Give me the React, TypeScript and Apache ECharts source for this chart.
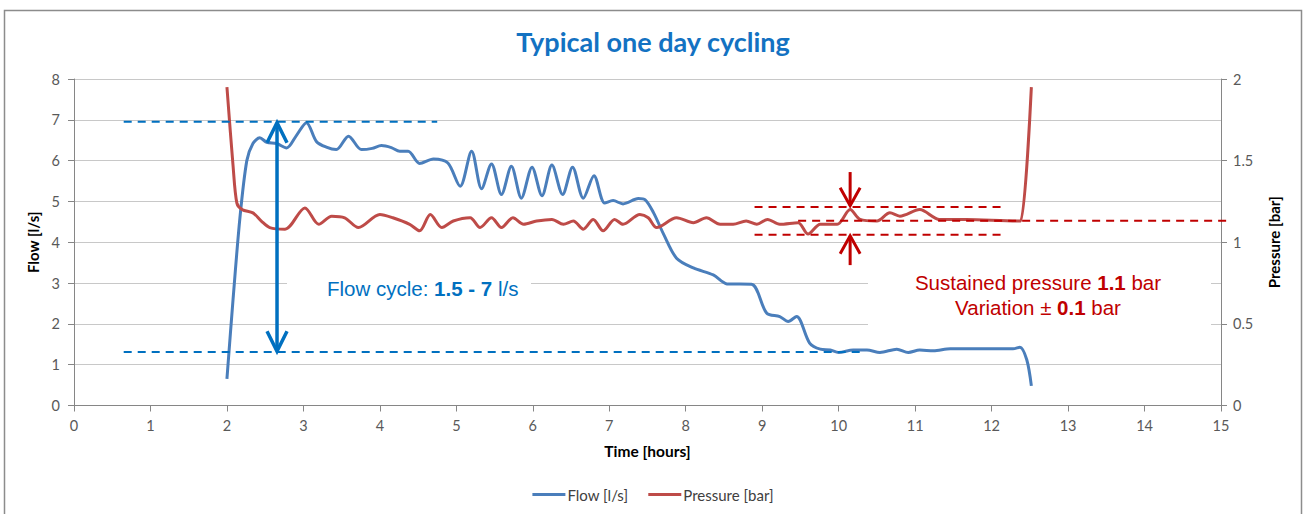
import React, { useEffect, useRef } from "react";
import * as echarts from "echarts";

const flowHours = [2.0, 2.08, 2.17, 2.26, 2.34, 2.43, 2.52, 2.65, 2.78, 2.91, 3.04, 3.17, 3.3, 3.43, 3.59, 3.76, 3.9, 4.02, 4.15, 4.26, 4.37, 4.52, 4.7, 4.89, 5.05, 5.2, 5.33, 5.46, 5.59, 5.72, 5.85, 5.99, 6.12, 6.25, 6.39, 6.52, 6.66, 6.8, 6.94, 7.05, 7.18, 7.38, 7.47, 7.58, 7.71, 7.88, 8.1, 8.36, 8.54, 8.86, 9.06, 9.23, 9.34, 9.45, 9.62, 9.76, 9.89, 10.0, 10.19, 10.37, 10.54, 10.76, 10.91, 11.06, 11.24, 11.46, 12.28, 12.37, 12.46, 12.52];
const flowValues = [0.65, 2.6, 4.6, 6.0, 6.42, 6.56, 6.45, 6.42, 6.31, 6.62, 6.93, 6.47, 6.33, 6.27, 6.6, 6.27, 6.3, 6.37, 6.32, 6.23, 6.23, 5.93, 6.04, 5.94, 5.37, 6.23, 5.31, 5.92, 5.17, 5.86, 5.08, 5.84, 5.14, 5.89, 5.17, 5.84, 5.08, 5.63, 4.96, 5.02, 4.94, 5.07, 5.04, 4.72, 4.2, 3.61, 3.37, 3.2, 2.98, 2.97, 2.26, 2.18, 2.06, 2.18, 1.53, 1.38, 1.36, 1.3, 1.36, 1.36, 1.3, 1.38, 1.3, 1.36, 1.34, 1.39, 1.39, 1.43, 1.12, 0.48];

const pressureHours = [2.0, 2.08, 2.13, 2.2, 2.34, 2.45, 2.56, 2.76, 3.02, 3.2, 3.37, 3.54, 3.72, 4.0, 4.17, 4.39, 4.52, 4.66, 4.81, 4.96, 5.18, 5.31, 5.46, 5.59, 5.74, 5.88, 6.05, 6.25, 6.4, 6.53, 6.66, 6.79, 6.92, 7.07, 7.18, 7.4, 7.51, 7.62, 7.88, 8.1, 8.27, 8.45, 8.62, 8.79, 8.93, 9.07, 9.23, 9.47, 9.6, 9.76, 9.98, 10.15, 10.28, 10.5, 10.67, 10.8, 11.06, 11.32, 11.67, 12.33, 12.38, 12.52];
const pressureValues = [1.95, 1.47, 1.24, 1.2, 1.18, 1.13, 1.09, 1.08, 1.21, 1.11, 1.16, 1.15, 1.09, 1.17, 1.15, 1.11, 1.07, 1.17, 1.09, 1.13, 1.15, 1.09, 1.15, 1.09, 1.15, 1.11, 1.13, 1.14, 1.11, 1.13, 1.08, 1.14, 1.07, 1.14, 1.11, 1.17, 1.15, 1.09, 1.15, 1.12, 1.15, 1.11, 1.11, 1.13, 1.11, 1.14, 1.11, 1.12, 1.05, 1.11, 1.11, 1.2, 1.14, 1.13, 1.18, 1.16, 1.2, 1.14, 1.14, 1.13, 1.13, 1.95];

const xTicks = [0, 15, 1];
const flowTicks = [0, 8, 1];
const pressureTicks = [0, 2, 0.5];

// annotation levels (data units)
const flowBandLevels = [6.95, 1.31];
const flowBandStarts = [0.65, 0.65];
const flowBandEnds = [4.75, 10.3];
const flowArrowHour = 2.655;
const flowArrowEnds = [6.93, 1.33];

const pressureBandLevels = [1.216, 1.132, 1.046];
const pressureBandStarts = [8.9, 9.47, 8.9];
const pressureBandEnds = [12.14, 15.08, 12.14];
const pressureArrowHour = 10.15;
const pressureArrowDown = [1.43, 1.224];
const pressureArrowUp = [0.86, 1.04];

const BLUE = "#0070C0";
const RED = "#C00000";
const FONT = "Lato, 'Open Sans', sans-serif";
const ARIAL = "'Liberation Sans', Arial, sans-serif";

export default function App() {
  const ref = useRef<HTMLDivElement>(null);
  useEffect(() => {
    if (!ref.current) return;
    const chart = echarts.init(ref.current, undefined, { renderer: "svg" });
    const flowData = flowHours.map((h, i) => [h, flowValues[i]]);
    const pressureData = pressureHours.map((h, i) => [h, pressureValues[i]]);
    const axisLineStyle = { lineStyle: { color: "#868686", width: 1 } };
    const option: any = {
      animation: false,
      backgroundColor: "#ffffff",
      title: {
        text: "Typical one day cycling",
        left: "center",
        top: 23,
        textStyle: { fontFamily: FONT, fontSize: 27, fontWeight: "bold", color: "#1372C2" },
      },
      legend: {
        top: 482,
        left: "center",
        icon: "rect",
        itemWidth: 33,
        itemHeight: 3,
        itemGap: 20,
        itemStyle: { borderWidth: 0 },
        textStyle: { fontFamily: FONT, fontSize: 15, color: "#404040", padding: [0, 0, 0, -3] },
        data: ["Flow [l/s]", "Pressure [bar]"],
      },
      grid: { left: 74, right: 85, top: 79, bottom: 108.5 },
      xAxis: {
        type: "value",
        min: xTicks[0],
        max: xTicks[1],
        interval: xTicks[2],
        name: "Time [hours]",
        nameLocation: "middle",
        nameGap: 37,
        nameTextStyle: { fontFamily: FONT, fontSize: 15.5, fontWeight: "bold", color: "#000" },
        axisLine: axisLineStyle,
        axisTick: { show: true, length: 6, lineStyle: { color: "#868686" } },
        axisLabel: { fontFamily: FONT, fontSize: 14.5, color: "#595959", margin: 12 },
        splitLine: { show: false },
      },
      yAxis: [
        {
          type: "value",
          min: flowTicks[0],
          max: flowTicks[1],
          interval: flowTicks[2],
          name: "Flow [l/s]",
          nameLocation: "middle",
          nameGap: 30,
          nameTextStyle: { fontFamily: FONT, fontSize: 15, fontWeight: "bold", color: "#000" },
          axisLine: { show: true, ...axisLineStyle },
          axisTick: { show: true, length: 6, lineStyle: { color: "#868686" } },
          axisLabel: { fontFamily: FONT, fontSize: 14.5, color: "#595959", margin: 14 },
          splitLine: { show: true, lineStyle: { color: "#C8C8C8", width: 1.2 } },
        },
        {
          type: "value",
          min: pressureTicks[0],
          max: pressureTicks[1],
          interval: pressureTicks[2],
          position: "right",
          name: "Pressure [bar]",
          nameLocation: "middle",
          nameGap: 45,
          nameTextStyle: { fontFamily: FONT, fontSize: 15, fontWeight: "bold", color: "#000" },
          axisLine: { show: true, ...axisLineStyle },
          axisTick: { show: true, length: 6, lineStyle: { color: "#868686" } },
          axisLabel: { fontFamily: FONT, fontSize: 14.5, color: "#595959", margin: 12 },
          splitLine: { show: false },
        },
      ],
      series: [
        {
          name: "Flow [l/s]",
          type: "line",
          data: flowData,
          yAxisIndex: 0,
          showSymbol: false,
          smooth: 0.3,
          lineStyle: { color: "#4A7EBB", width: 3 },
          itemStyle: { color: "#4A7EBB" },
          z: 3,
        },
        {
          name: "Pressure [bar]",
          type: "line",
          data: pressureData,
          yAxisIndex: 1,
          showSymbol: false,
          smooth: 0.3,
          lineStyle: { color: "#BE4B48", width: 3 },
          itemStyle: { color: "#BE4B48" },
          z: 3,
        },
      ],
    };
    chart.setOption(option);

    const P = (x: number, y: number, yi: number) =>
      chart.convertToPixel({ xAxisIndex: 0, yAxisIndex: yi } as any, [x, y]) as number[];

    const g: any[] = [];
    g.push({
      type: "rect",
      shape: { x: 4.5, y: 10.5, width: 1297, height: 520 },
      style: { fill: "none", stroke: "#8C8C8C", lineWidth: 1.5 },
      z: 0,
    });
    g.push({ type: "rect", shape: { x: 287, y: 268, width: 244, height: 32 }, style: { fill: "#fff" }, z: 1 });
    g.push({ type: "rect", shape: { x: 868, y: 264, width: 343, height: 70 }, style: { fill: "#fff" }, z: 1 });

    const line = (a: number[], b: number[], color: string, width: number, dash?: number[]) => ({
      type: "line",
      shape: { x1: a[0], y1: a[1], x2: b[0], y2: b[1] },
      style: { stroke: color, lineWidth: width, lineDash: dash },
      z: 4,
    });
    const head = (tip: number[], dir: number, color: string, w: number, h: number, lw: number) => ({
      type: "polyline",
      shape: { points: [[tip[0] - w, tip[1] + dir * h], [tip[0], tip[1]], [tip[0] + w, tip[1] + dir * h]] },
      style: { stroke: color, lineWidth: lw, fill: "none" },
      z: 4,
    });

    flowBandLevels.forEach((lv, i) => {
      g.push(line(P(flowBandStarts[i], lv, 0), P(flowBandEnds[i], lv, 0), BLUE, 2, [8, 6]));
    });
    const fa = P(flowArrowHour, flowArrowEnds[0], 0);
    const fb = P(flowArrowHour, flowArrowEnds[1], 0);
    g.push(line(fa, fb, BLUE, 3.5));
    g.push(head(fa, 1, BLUE, 10, 20, 3.5));
    g.push(head(fb, -1, BLUE, 10, 20, 3.5));

    pressureBandLevels.forEach((lv, i) => {
      g.push(line(P(pressureBandStarts[i], lv, 1), P(pressureBandEnds[i], lv, 1), RED, 2, [8, 6]));
    });
    const d0 = P(pressureArrowHour, pressureArrowDown[0], 1);
    const d1 = P(pressureArrowHour, pressureArrowDown[1], 1);
    g.push(line(d0, d1, RED, 3));
    g.push(head(d1, -1, RED, 10, 18, 3));
    const u0 = P(pressureArrowHour, pressureArrowUp[0], 1);
    const u1 = P(pressureArrowHour, pressureArrowUp[1], 1);
    g.push(line(u0, u1, RED, 3));
    g.push(head(u1, 1, RED, 10, 18, 3));

    const rich = (c: string) => ({
      n: { fontFamily: ARIAL, fontSize: 20.5, fill: c, color: c },
      b: { fontFamily: ARIAL, fontSize: 20.5, fontWeight: "bold", fill: c, color: c },
    });
    g.push({
      type: "text",
      x: 327,
      y: 288,
      z: 5,
      style: { text: "{n|Flow cycle: }{b|1.5 - 7}{n| l/s}", verticalAlign: "middle", rich: rich(BLUE) },
    });
    g.push({
      type: "text",
      x: 1038,
      y: 282,
      z: 5,
      style: { text: "{n|Sustained pressure }{b|1.1}{n| bar}", align: "center", verticalAlign: "middle", rich: rich(RED) },
    });
    g.push({
      type: "text",
      x: 1038,
      y: 307,
      z: 5,
      style: { text: "{n|Variation ± }{b|0.1}{n| bar}", align: "center", verticalAlign: "middle", rich: rich(RED) },
    });

    chart.setOption({ graphic: g });
    return () => chart.dispose();
  }, []);
  return (
    <div
      ref={ref}
      style={{ position: "fixed", left: 0, top: 0, width: 1306, height: 514, background: "#fff" }}
    />
  );
}
